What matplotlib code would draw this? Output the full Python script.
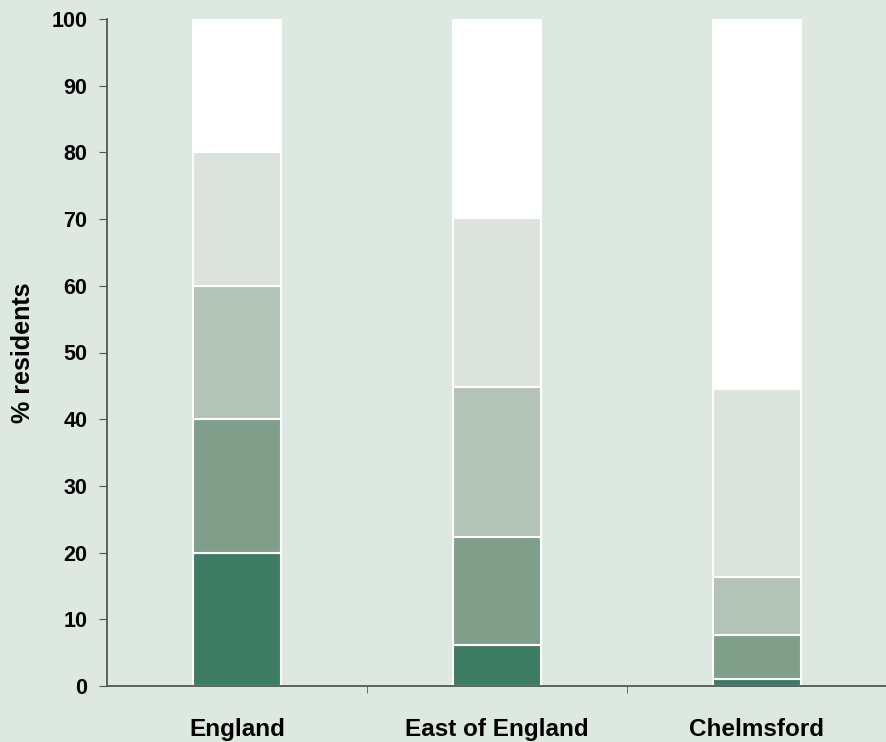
import matplotlib.pyplot as plt
import numpy as np

plt.rcParams['font.family'] = ['Liberation Sans', 'DejaVu Sans']

areas = ['England', 'East of England', 'Chelmsford']
# stacked segments, bottom to top (% residents)
seg1 = [20.0, 6.1, 1.0]
seg2 = [20.0, 16.2, 6.6]
seg3 = [20.0, 22.5, 8.7]
seg4 = [20.0, 25.4, 28.2]
seg5 = [20.0, 29.8, 55.5]
segments = [seg1, seg2, seg3, seg4, seg5]
colors = ['#3d7b63', '#7f9f8a', '#b3c3b5', '#dce2dc', '#ffffff']

bg = '#dce8e0'
fig = plt.figure(figsize=(8.87, 7.42), dpi=100, facecolor=bg)
ax = fig.add_axes([107/887, 56/742, 780/887, 667/742], facecolor=bg)

x = np.arange(len(areas))
bottom = np.zeros(len(areas))
for vals, c in zip(segments, colors):
    ax.bar(x, vals, width=0.34, bottom=bottom, color=c, edgecolor='white', linewidth=1.5, zorder=2)
    bottom += np.array(vals)

ax.set_xlim(-0.5, 2.5)
ax.set_ylim(0, 100)
ax.set_yticks(range(0, 101, 10))
ax.set_xticks(x)
ax.set_xticklabels(areas, fontsize=17.5, fontweight='bold')
ax.set_xticks([0.5, 1.5], minor=True)
ax.tick_params(axis='x', which='major', length=0, pad=23)
ax.tick_params(axis='x', which='minor', length=5, direction='out', color='#555555')
ax.tick_params(axis='y', length=6, direction='out', color='#555555', labelsize=15.5, pad=8)
for lab in ax.get_yticklabels():
    lab.set_fontweight('bold')
ax.set_ylabel('% residents', fontsize=18, fontweight='bold', labelpad=12)

for s in ['top', 'right']:
    ax.spines[s].set_visible(False)
for s in ['left', 'bottom']:
    ax.spines[s].set_color('#555555')
    ax.spines[s].set_linewidth(1.3)

fig.savefig('out.png', dpi=100, facecolor=bg)
